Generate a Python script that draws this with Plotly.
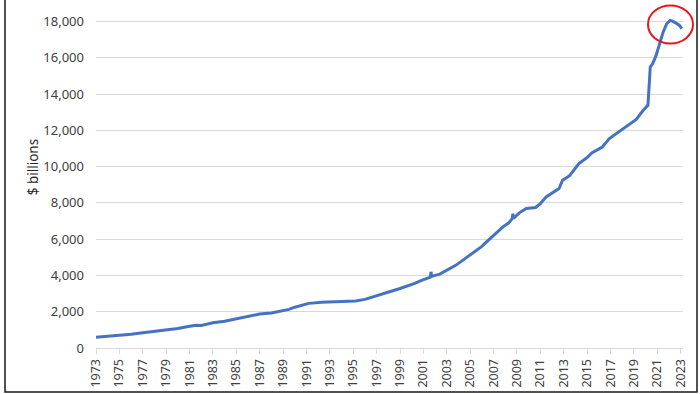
import plotly.graph_objects as go

# Decimal years and values ($ billions)
years = [1973.0, 1974.0, 1975.0, 1976.0, 1977.0, 1978.0, 1979.0, 1980.0, 1981.0, 1981.6,
         1982.0, 1983.0, 1984.0, 1985.0, 1986.0, 1987.0, 1988.0, 1989.0, 1989.5, 1990.0,
         1990.5, 1991.2, 1992.3, 1993.0, 1993.8, 1995.2, 1996.0, 1996.6, 1997.3, 1998.1,
         1999.0, 1999.5, 2000.2, 2000.9, 2001.6, 2001.65, 2001.7, 2002.4, 2003.0, 2003.8,
         2004.5, 2005.2, 2006.0, 2006.4, 2007.0, 2007.8, 2008.3, 2008.6, 2008.65, 2008.7,
         2009.2, 2009.8, 2010.6, 2011.0, 2011.5, 2012.0, 2012.6, 2012.9, 2013.5, 2014.3,
         2015.0, 2015.4, 2016.3, 2016.9, 2017.7, 2018.6, 2019.2, 2019.8, 2020.2, 2020.35,
         2020.4, 2020.6, 2020.9, 2021.2, 2021.5, 2021.8, 2022.1, 2022.3, 2022.5, 2022.6,
         2022.9, 2023.1]
values = [590, 640, 700, 760, 840, 910, 990, 1080, 1200, 1250,
          1240, 1390, 1480, 1610, 1740, 1870, 1930, 2050, 2130, 2250,
          2330, 2460, 2515, 2530, 2570, 2590, 2680, 2790, 2950, 3100,
          3280, 3380, 3550, 3740, 3900, 4200, 3950, 4070, 4300, 4570,
          4900, 5220, 5600, 5850, 6200, 6680, 6900, 7140, 7400, 7150,
          7450, 7690, 7745, 7950, 8330, 8550, 8790, 9250, 9500, 10170,
          10500, 10750, 11080, 11540, 11910, 12280, 12600, 13100, 13380, 14940,
          15490, 15670, 16130, 16770, 17410, 17870, 18060, 18020, 17960, 17910,
          17780, 17600]

tick_years = list(range(1973, 2024, 2))
tick_labels = [str(y) for y in tick_years]
y_ticks = list(range(0, 18001, 2000))
y_labels = ["{:,}".format(v) for v in y_ticks]

fig = go.Figure()
fig.add_trace(go.Scatter(
    x=years, y=values, mode="lines",
    line=dict(color="#4472C4", width=3),
    hoverinfo="skip", showlegend=False,
))

L, R, T, B = 96, 17, 15.5, 46
pw = 700 - L - R
ph = 394 - T - B

def px(xp):
    return (xp - L) / pw

def py(yp):
    return (394 - B - yp) / ph

fig.update_layout(
    width=700, height=394,
    margin=dict(l=L, r=R, t=T, b=B, pad=0, autoexpand=False),
    paper_bgcolor="white", plot_bgcolor="white",
    font=dict(family="Noto Sans, Open Sans, sans-serif", color="#595959", size=12),
    xaxis=dict(
        range=[1973.0, 2023.2], automargin=False,
        tickmode="array", tickvals=tick_years, ticktext=tick_labels,
        tickangle=-90, tickfont=dict(size=12.5, color="#404040"),
        showgrid=False, showline=True, linecolor="#d9d9d9", linewidth=1,
        ticks="outside", ticklen=5, tickcolor="#d9d9d9", zeroline=False,
    ),
    yaxis=dict(
        range=[0, 18300], automargin=False,
        tickmode="array", tickvals=y_ticks, ticktext=y_labels,
        tickfont=dict(size=13, color="#404040"),
        showgrid=True, gridcolor="#d9d9d9", gridwidth=1,
        showline=False, zeroline=False, ticks="", ticklabelstandoff=11,
    ),
    annotations=[
        dict(text="$ billions", xref="paper", yref="paper", x=px(33), y=py(167),
             textangle=-90, showarrow=False, xanchor="center", yanchor="middle",
             font=dict(size=13.5, color="#262626")),
    ],
    shapes=[
        dict(type="rect", xref="paper", yref="paper",
             x0=px(5), x1=px(697), y0=py(392), y1=py(-3),
             line=dict(color="#1a1a1a", width=1.5), fillcolor="rgba(0,0,0,0)", layer="above"),
        dict(type="circle", xref="paper", yref="paper",
             x0=px(648), x1=px(693), y0=py(43), y1=py(5),
             line=dict(color="#e3191b", width=2), fillcolor="rgba(0,0,0,0)", layer="above"),
    ],
)

fig.write_html("out.html", config={"displayModeBar": False},
               post_script="document.body.style.margin='0px';document.body.style.overflow='hidden';")
